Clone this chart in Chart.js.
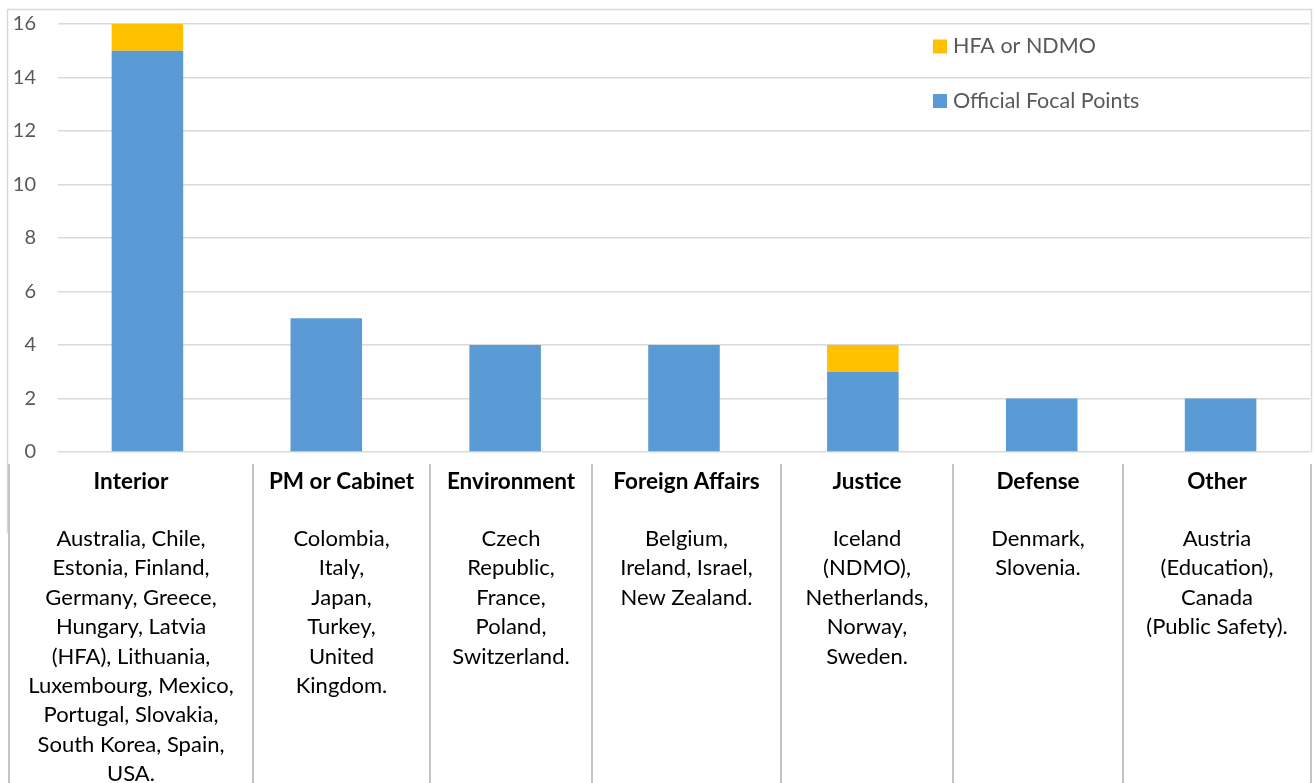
<!DOCTYPE html>
<html>
<head>
<meta charset="utf-8">
<script src="https://cdn.jsdelivr.net/npm/chart.js@4.4.1/dist/chart.umd.min.js"></script>
<style>
  html, body { margin: 0; padding: 0; background: #fff; }
  #wrap { position: relative; width: 1314px; height: 783px; }
</style>
</head>
<body>
<div id="wrap"><canvas id="c" width="1314" height="783"></canvas></div>
<script>
// ---- data ----
const categories = ['Interior', 'PM or Cabinet', 'Environment', 'Foreign Affairs', 'Justice', 'Defense', 'Other'];
const officialFocalPoints = [15, 5, 4, 4, 3, 2, 2];
const hfaOrNdmo = [1, 0, 0, 0, 1, 0, 0];
const seriesLabels = ['Official Focal Points', 'HFA or NDMO'];
const yTickValues = [0, 2, 4, 6, 8, 10, 12, 14, 16];
const countryLines = [
  ['Australia, Chile,', 'Estonia, Finland,', 'Germany, Greece,', 'Hungary, Latvia', '(HFA), Lithuania,', 'Luxembourg, Mexico,', 'Portugal, Slovakia,', 'South Korea, Spain,', 'USA.'],
  ['Colombia,', 'Italy,', 'Japan,', 'Turkey,', 'United', 'Kingdom.'],
  ['Czech', 'Republic,', 'France,', 'Poland,', 'Switzerland.'],
  ['Belgium,', 'Ireland, Israel,', 'New Zealand.'],
  ['Iceland', '(NDMO),', 'Netherlands,', 'Norway,', 'Sweden.'],
  ['Denmark,', 'Slovenia.'],
  ['Austria', '(Education),', 'Canada', '(Public Safety).']
];

// ---- layout / style ----
const FONT = 'Lato, "Liberation Sans", sans-serif';
const BLUE = '#5B9BD5';
const ORANGE = '#FFC000';
const GRID = '#D9D9D9';
const tableEdges = [9, 253, 430, 592, 781, 953, 1123, 1311];
const tableTop = 464;

const framePlugin = {
  id: 'frame',
  beforeDraw(chart) {
    const ctx = chart.ctx;
    ctx.save();
    ctx.fillStyle = '#fff';
    ctx.fillRect(0, 0, chart.width, chart.height);
    ctx.strokeStyle = GRID;
    ctx.lineWidth = 1.5;
    ctx.beginPath();
    ctx.moveTo(7.5, 533); ctx.lineTo(7.5, 9.5); ctx.lineTo(1311.5, 9.5); ctx.lineTo(1311.5, 452);
    ctx.stroke();
    ctx.restore();
  },
  afterDraw(chart) {
    const ctx = chart.ctx;
    ctx.save();
    // table lines
    ctx.strokeStyle = '#C4C4C4';
    ctx.lineWidth = 2;
    tableEdges.forEach(x => {
      ctx.beginPath();
      ctx.moveTo(x, tableTop);
      ctx.lineTo(x, chart.height);
      ctx.stroke();
    });
    // table text
    ctx.fillStyle = '#000';
    ctx.textAlign = 'center';
    ctx.textBaseline = 'alphabetic';
    categories.forEach((cat, i) => {
      const cx = (tableEdges[i] + tableEdges[i + 1]) / 2;
      ctx.font = 'bold 22.5px ' + FONT;
      ctx.fillText(cat, cx, 488.5);
      ctx.font = '22px ' + FONT;
      countryLines[i].forEach((line, j) => {
        ctx.fillText(line, cx, 546 + j * 29.4);
      });
    });
    // legend (top-right inside plot)
    const order = [1, 0];
    const lx = 933, ly = [46.5, 101];
    ctx.textAlign = 'left';
    ctx.textBaseline = 'middle';
    ctx.font = '21.5px ' + FONT;
    order.forEach((di, k) => {
      const ds = chart.data.datasets[di];
      ctx.fillStyle = ds.backgroundColor;
      ctx.fillRect(lx, ly[k] - 7, 14, 14);
      ctx.fillStyle = '#595959';
      ctx.fillText(ds.label, lx + 20, ly[k]);
    });
    ctx.restore();
  }
};

new Chart(document.getElementById('c'), {
  type: 'bar',
  data: {
    labels: categories,
    datasets: [
      { label: seriesLabels[0], data: officialFocalPoints, backgroundColor: BLUE, barPercentage: 0.4, categoryPercentage: 1.0 },
      { label: seriesLabels[1], data: hfaOrNdmo, backgroundColor: ORANGE, barPercentage: 0.4, categoryPercentage: 1.0 }
    ]
  },
  options: {
    responsive: false,
    animation: false,
    devicePixelRatio: 1,
    layout: { padding: { left: 0, top: 24, right: 4, bottom: 331 } },
    plugins: { legend: { display: false }, tooltip: { enabled: false } },
    scales: {
      x: { stacked: true, display: false, grid: { display: false } },
      y: {
        stacked: true,
        min: 0, max: 16,
        afterFit(scale) { scale.width = 58; scale.paddingTop = 0; scale.paddingBottom = 0; },
        afterBuildTicks(scale) { scale.ticks = yTickValues.map(v => ({ value: v })); },
        border: { display: false },
        grid: { color: GRID, lineWidth: 1.5, drawTicks: false },
        ticks: { color: '#595959', font: { family: FONT, size: 20 }, padding: 22 }
      }
    }
  },
  plugins: [framePlugin]
});
</script>
</body>
</html>
